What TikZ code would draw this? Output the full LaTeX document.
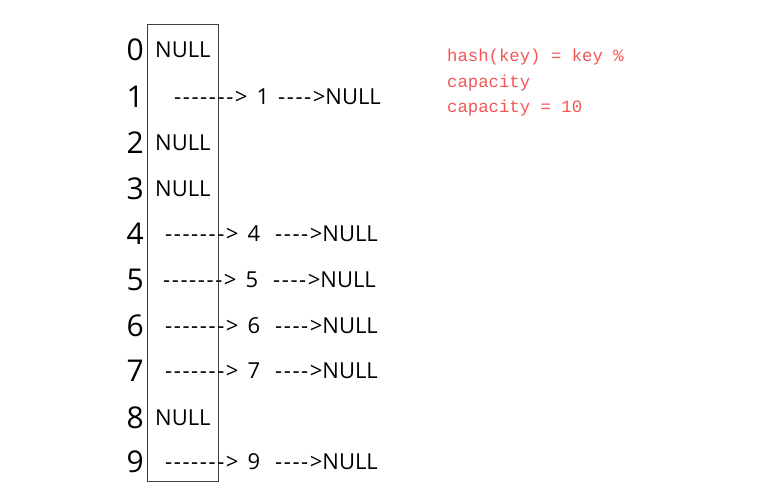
\documentclass[tikz,border=0pt]{standalone}
\usepackage{fontspec}
\setmainfont{Open Sans}[Ligatures=TeXOff]
\newfontfamily\plainfont{Open Sans}[Ligatures=TeXOff]
\newfontfamily\codefont{Liberation Mono}
\definecolor{codered}{RGB}{245,85,85}
\newcommand\hyrun[1]{\foreach \k in {1,...,#1}{-\kern1.6pt}}
\newcommand\gap[1]{\hspace*{#1pt}}
\begin{document}
\begin{tikzpicture}[x=1pt,y=1pt,
  idx/.style={inner sep=0pt,anchor=east,font=\plainfont\fontsize{30}{34}\selectfont},
  cell/.style={inner sep=0pt,anchor=west,font=\plainfont\fontsize{22}{26}\selectfont},
  chain/.style={inner sep=0pt,anchor=west,font=\plainfont\fontsize{22}{26}\selectfont},
  note/.style={inner sep=0pt,anchor=north west,align=left,text=codered,font=\codefont\fontsize{17.3}{25.5}\selectfont}]
\useasboundingbox (0,0) rectangle (766,501);
\node[draw=black!75,line width=0.8pt,minimum width=71pt,minimum height=457pt,inner sep=0pt] (table) at (182.5,248.5) {};
\foreach \i/\py in {0/50,1/97,2/143,3/189,4/234,5/280,6/326,7/371,8/418,9/462}{
  \node[idx] (idx\i) at (144,501-\py) {\i};
}
\node[cell] (c0) at (155,501-50) {NULL};
\node[cell] (c2) at (155,501-143) {NULL};
\node[cell] (c3) at (155,501-189) {NULL};
\node[cell] (c8) at (155,501-418) {NULL};
\node[chain] (e1) at (174,501-97) {\hyrun{7}>\gap{9}1\gap{9}\hyrun{4}>NULL};
\node[chain] (e4) at (165,501-234) {\hyrun{7}>\gap{9}4\gap{15}\hyrun{4}>NULL};
\node[chain] (e5) at (163,501-280) {\hyrun{7}>\gap{9}5\gap{15}\hyrun{4}>NULL};
\node[chain] (e6) at (165,501-326) {\hyrun{7}>\gap{9}6\gap{15}\hyrun{4}>NULL};
\node[chain] (e7) at (165,501-371) {\hyrun{7}>\gap{9}7\gap{15}\hyrun{4}>NULL};
\node[chain] (e9) at (165,501-462) {\hyrun{7}>\gap{9}9\gap{15}\hyrun{4}>NULL};
\node[note] (formula) at (447,501-49) {hash(key) = key \%\\capacity\\capacity = 10};
\end{tikzpicture}
\end{document}
